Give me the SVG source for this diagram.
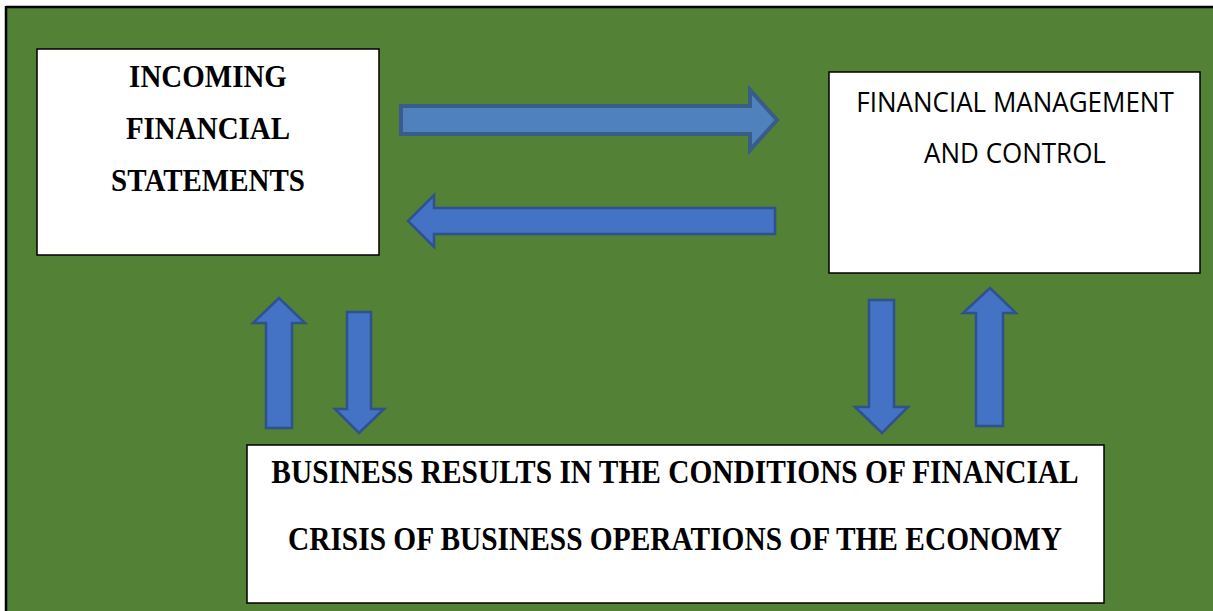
<svg xmlns="http://www.w3.org/2000/svg" width="1213" height="611" viewBox="0 0 1213 611">
<style>
.box{fill:#ffffff;stroke:#000000;stroke-width:1.5}
.serif{font-family:"Liberation Serif","Times New Roman",serif;font-weight:bold;font-size:29px;fill:#000;text-anchor:middle}
.sans{font-family:"Open Sans","Noto Sans","Liberation Sans",sans-serif;font-size:26px;fill:#000;text-anchor:middle}
.arr{fill:#4472c4;stroke:#2f528f;stroke-width:2.5;stroke-linejoin:miter}
.arr2{fill:#4f81bd;stroke:#385d8a;stroke-width:4;stroke-linejoin:miter}
</style>
<rect x="0" y="0" width="1213" height="611" fill="#ffffff"/>
<rect x="6" y="7" width="1207" height="604" fill="#538135"/>
<line x1="6" y1="7" x2="1213" y2="7" stroke="#000" stroke-width="2.5"/>
<line x1="6" y1="6" x2="6" y2="611" stroke="#000" stroke-width="2.5"/>
<g id="incoming">
<rect class="box" x="37" y="49" width="342" height="206"/>
<text class="serif" transform="translate(208,87) scale(1,1.12)">INCOMING</text>
<text class="serif" transform="translate(208,139) scale(1,1.12)">FINANCIAL</text>
<text class="serif" transform="translate(208,191) scale(1,1.12)">STATEMENTS</text>
</g>
<g id="management">
<rect class="box" x="829" y="72" width="371" height="201"/>
<text class="sans" transform="translate(1015,112) scale(1,1.08)">FINANCIAL MANAGEMENT</text>
<text class="sans" transform="translate(1015,163) scale(1,1.08)">AND CONTROL</text>
</g>
<g id="results">
<rect class="box" x="247" y="445" width="857" height="158"/>
<text class="serif" transform="translate(675,483) scale(1,1.12)" style="font-size:29.4px">BUSINESS RESULTS IN THE CONDITIONS OF FINANCIAL</text>
<text class="serif" transform="translate(675,550) scale(1,1.12)" style="font-size:29.4px">CRISIS OF BUSINESS OPERATIONS OF THE ECONOMY</text>
</g>
<g id="connectors">
<polygon class="arr2" points="401,106 750,106 750,90 777,120 750,150 750,134 401,134"/>
<polygon class="arr" points="775,208 434,208 434,195 408,221 434,247 434,234 775,234"/>
<polygon class="arr" points="266,428 266,323 253,323 279,298 305,323 292,323 292,428"/>
<polygon class="arr" points="347,312 371,312 371,409 384,409 359,433 335,409 347,409"/>
<polygon class="arr" points="869,300 894,300 894,407 908,407 882,433 855,407 869,407"/>
<polygon class="arr" points="976,426 976,313 963,313 990,288 1016,313 1003,313 1003,426"/>
</g>
</svg>
